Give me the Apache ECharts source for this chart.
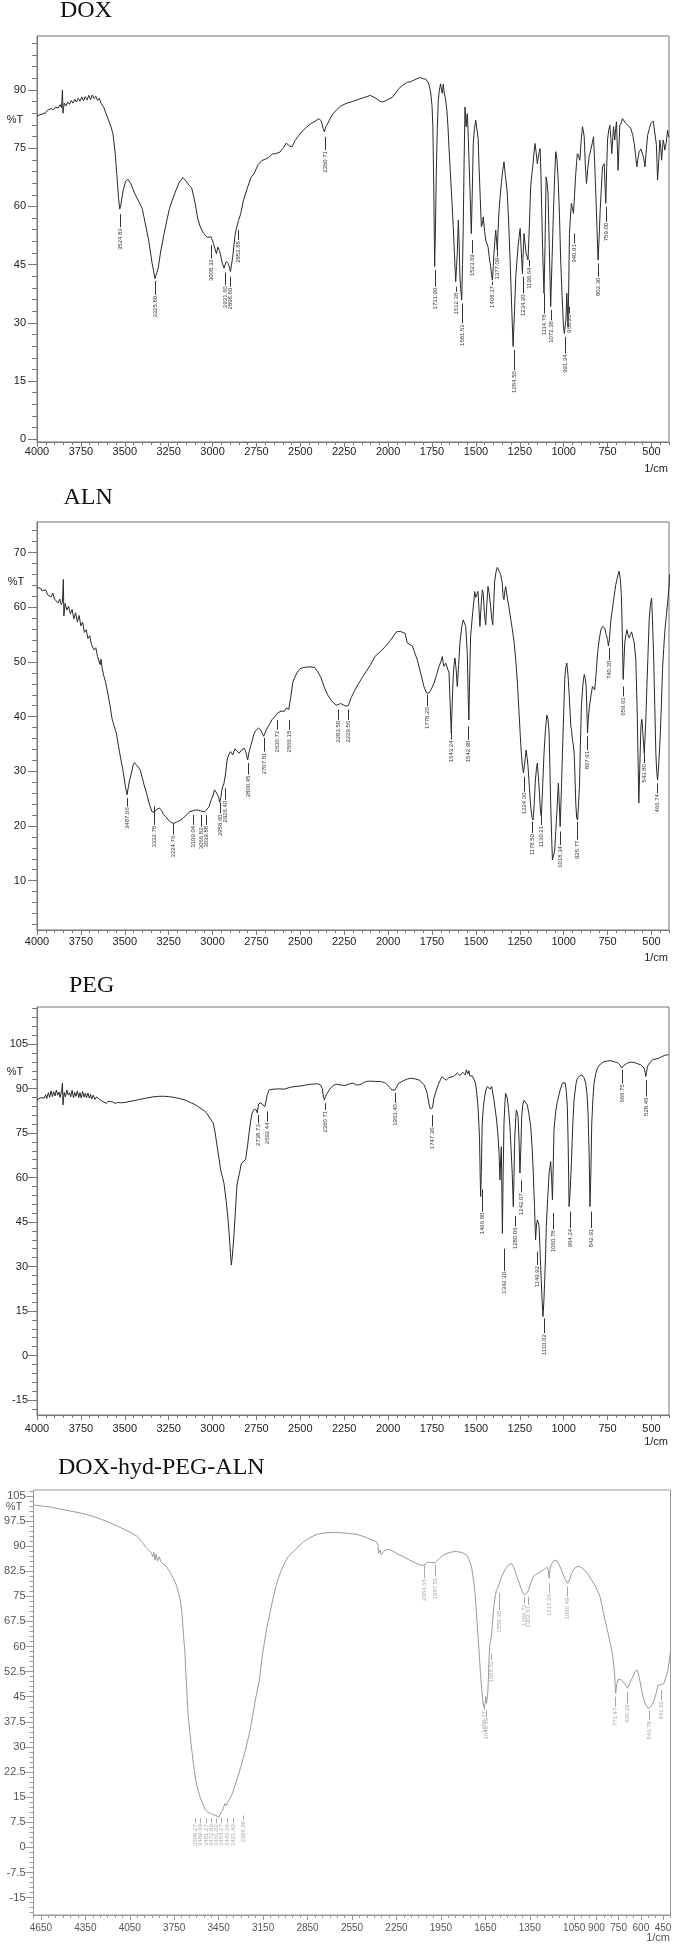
<!DOCTYPE html>
<html><head><meta charset="utf-8">
<script src="https://cdn.jsdelivr.net/npm/echarts@6/dist/echarts.min.js"></script>
<style>html,body{margin:0;padding:0;background:#fff}#c{width:675px;height:1946px}</style>
</head><body><div id="c"></div>
<script>
// ---------------- tick labels ----------------
const X_TICKS_A = [4000,3750,3500,3250,3000,2750,2500,2250,2000,1750,1500,1250,1000,750,500];
const X_TICKS_B = [4650,4350,4050,3750,3450,3150,2850,2550,2250,1950,1650,1350,1050,900,750,600,450];
const DOX_Y_TICKS = [0,15,30,45,60,75,90];
const ALN_Y_TICKS = [10,20,30,40,50,60,70];
const PEG_Y_TICKS = [-15,0,15,30,45,60,75,90,105];
const CONJ_Y_TICKS = [-15,-7.5,0,7.5,15,22.5,30,37.5,45,52.5,60,67.5,75,82.5,90,97.5,105];

// ---------------- spectra [wavenumber, %T] ----------------
const DOX_SPECTRUM = [[4000,83.3],[3985,83.6],[3970,83.8],[3960,84.3],[3950,84.1],[3940,84.8],[3930,84.5],[3920,85.2],[3905,84.9],[3895,85.6],[3880,85.3],[3868,86.2],[3860,85.4],[3855,90.0],[3852,84.0],[3845,86.6],[3835,85.9],[3825,86.9],[3815,86.3],[3805,87.3],[3795,86.6],[3785,87.6],[3775,86.9],[3765,87.8],[3755,87.1],[3745,88.2],[3735,87.2],[3725,88.3],[3715,87.4],[3705,88.6],[3695,87.5],[3685,88.7],[3675,87.8],[3665,88.4],[3655,87.3],[3645,87.9],[3635,86.5],[3628,86.8],[3620,85.6],[3610,84.3],[3595,82.5],[3580,80.7],[3568,78.9],[3555,74.0],[3545,68.0],[3535,62.0],[3529,59.3],[3522,60.5],[3510,64.0],[3495,66.5],[3482,67.0],[3465,65.8],[3445,63.5],[3420,61.2],[3401,59.5],[3385,56.0],[3364,51.3],[3345,45.5],[3328,41.4],[3310,44.0],[3295,48.5],[3278,52.5],[3260,56.5],[3245,59.5],[3229,61.6],[3210,64.0],[3190,66.2],[3168,67.4],[3150,66.5],[3135,65.5],[3119,64.8],[3100,61.0],[3085,57.0],[3070,54.7],[3050,53.0],[3030,52.0],[3009,52.2],[2995,50.5],[2984,50.5],[2978,47.8],[2970,49.5],[2960,48.6],[2945,45.5],[2935,44.1],[2922,45.8],[2910,45.3],[2898,43.2],[2885,47.0],[2872,52.5],[2866,54.0],[2852,56.4],[2840,58.0],[2824,61.6],[2800,65.0],[2780,67.5],[2763,68.5],[2740,70.8],[2720,71.8],[2702,72.1],[2680,72.6],[2660,73.5],[2640,73.6],[2616,74.0],[2595,75.2],[2580,76.3],[2572,76.6],[2560,75.5],[2547,75.3],[2530,77.0],[2510,78.2],[2493,79.2],[2470,80.2],[2440,81.3],[2410,82.1],[2395,82.6],[2380,82.0],[2370,80.0],[2363,79.2],[2355,80.5],[2346,81.2],[2320,83.5],[2295,84.8],[2272,85.8],[2240,86.5],[2205,87.0],[2174,87.5],[2140,88.0],[2101,88.6],[2075,88.0],[2050,87.2],[2032,86.9],[2010,87.3],[1990,87.8],[1978,88.0],[1960,89.0],[1940,90.3],[1917,91.2],[1890,92.0],[1872,92.1],[1850,92.6],[1830,93.0],[1815,93.2],[1800,92.9],[1786,92.8],[1770,91.8],[1758,89.5],[1750,86.0],[1745,80.5],[1740,65.0],[1735,44.5],[1730,55.0],[1726,67.6],[1720,80.0],[1714,87.4],[1708,90.0],[1701,91.6],[1696,90.0],[1691,89.1],[1686,91.5],[1680,89.2],[1672,87.4],[1665,84.5],[1659,80.5],[1652,74.0],[1644,67.6],[1636,61.0],[1629,54.8],[1622,47.5],[1615,40.6],[1610,44.5],[1606,47.9],[1600,56.5],[1595,50.0],[1591,41.9],[1586,38.5],[1581,35.9],[1576,45.0],[1572,54.8],[1567,72.0],[1562,85.6],[1556,80.5],[1552,82.5],[1549,83.9],[1545,80.0],[1539,71.9],[1532,62.0],[1526,53.0],[1520,65.0],[1515,76.2],[1508,80.0],[1501,82.2],[1492,81.8],[1487,77.5],[1482,70.2],[1475,62.0],[1469,54.8],[1463,55.5],[1458,57.3],[1450,53.5],[1444,51.3],[1438,50.8],[1431,49.6],[1424,47.0],[1416,44.5],[1411,42.5],[1406,41.0],[1401,44.5],[1397,47.9],[1392,51.0],[1387,53.9],[1382,51.0],[1378,48.8],[1373,54.5],[1368,59.0],[1360,63.5],[1355,65.9],[1348,69.0],[1340,71.5],[1332,68.0],[1321,63.3],[1313,55.5],[1305,46.2],[1296,34.0],[1288,23.9],[1281,32.0],[1273,41.9],[1266,46.0],[1260,49.6],[1254,52.0],[1248,54.3],[1242,49.0],[1235,42.7],[1230,48.5],[1226,53.0],[1220,50.5],[1214,47.9],[1208,47.5],[1203,46.2],[1195,55.5],[1188,65.0],[1182,68.0],[1176,70.2],[1170,73.5],[1163,76.2],[1157,74.0],[1150,71.0],[1142,73.5],[1134,74.9],[1130,69.0],[1125,59.0],[1118,46.0],[1112,37.6],[1106,50.0],[1100,67.6],[1094,66.0],[1089,63.3],[1082,50.0],[1074,34.2],[1067,45.0],[1058,59.0],[1051,68.0],[1045,74.1],[1038,72.0],[1032,67.6],[1024,58.0],[1017,46.2],[1009,37.0],[1001,29.0],[996,27.3],[992,26.8],[987,31.0],[982,37.6],[978,33.0],[975,29.0],[971,40.0],[967,53.0],[961,57.5],[956,60.8],[950,59.5],[944,58.2],[938,63.0],[931,68.5],[926,71.5],[922,73.6],[915,73.0],[908,71.9],[900,77.0],[893,80.5],[888,79.5],[883,77.9],[877,71.0],[870,65.9],[863,69.5],[855,72.8],[848,74.0],[842,75.3],[836,76.5],[830,77.9],[824,72.0],[817,63.3],[810,54.0],[804,46.2],[798,52.0],[792,59.0],[785,65.0],[779,70.2],[769,71.0],[765,66.0],[760,60.8],[755,70.0],[750,77.1],[744,79.5],[737,80.9],[731,77.5],[726,73.6],[721,77.0],[716,80.5],[709,77.1],[704,80.0],[699,81.8],[694,75.0],[690,69.3],[685,75.5],[680,80.9],[672,81.5],[665,82.6],[655,82.0],[646,81.4],[632,80.8],[617,80.0],[607,78.5],[598,76.2],[590,73.0],[583,70.2],[576,72.5],[570,74.1],[560,74.8],[551,74.5],[544,72.5],[537,70.2],[530,74.0],[522,78.3],[512,80.0],[503,81.4],[490,82.0],[479,82.4],[472,76.0],[465,66.8],[458,72.0],[452,77.1],[447,75.0],[442,71.9],[437,75.0],[433,77.1],[428,76.0],[424,74.5],[420,75.5],[416,76.2],[412,78.0],[408,79.6],[404,78.5],[401,77.9]];

const ALN_SPECTRUM = [[4000,63.6],[3990,63.4],[3980,63.5],[3970,63.0],[3960,62.9],[3950,63.2],[3940,62.3],[3930,62.5],[3920,61.9],[3910,62.6],[3900,61.5],[3890,61.8],[3880,60.8],[3870,61.5],[3862,60.5],[3855,60.9],[3850,65.1],[3847,58.4],[3840,60.7],[3830,59.5],[3820,60.2],[3810,58.8],[3800,59.6],[3790,57.9],[3780,59.0],[3770,57.3],[3760,58.5],[3750,56.6],[3740,57.3],[3730,55.4],[3720,55.9],[3710,54.3],[3700,54.8],[3690,53.2],[3683,53.5],[3675,52.2],[3665,52.6],[3655,51.0],[3646,51.0],[3640,49.5],[3635,50.5],[3629,48.9],[3620,47.5],[3610,46.4],[3598,44.5],[3585,42.2],[3573,39.7],[3560,38.2],[3548,37.0],[3530,33.5],[3511,30.3],[3498,27.5],[3487,25.7],[3475,28.0],[3462,29.7],[3452,31.2],[3445,31.6],[3435,31.2],[3425,30.8],[3413,30.3],[3400,28.8],[3390,27.5],[3376,26.0],[3360,24.0],[3345,22.6],[3332,22.5],[3320,23.0],[3303,23.3],[3290,22.8],[3280,22.1],[3266,21.7],[3250,21.0],[3235,20.6],[3217,20.5],[3200,20.8],[3185,21.0],[3168,21.4],[3150,22.0],[3130,22.6],[3119,22.9],[3100,22.9],[3082,22.9],[3065,22.7],[3060,22.4],[3045,22.6],[3035,22.7],[3020,23.5],[3008,24.8],[2998,25.5],[2989,26.6],[2980,26.2],[2971,25.7],[2965,25.2],[2959,24.3],[2953,25.2],[2947,26.6],[2941,27.3],[2935,27.8],[2926,29.5],[2917,32.1],[2908,33.0],[2898,33.6],[2885,33.0],[2873,34.1],[2862,34.0],[2849,33.3],[2835,33.9],[2819,34.2],[2810,33.5],[2800,32.1],[2790,33.8],[2775,35.5],[2763,37.0],[2750,37.6],[2738,37.9],[2725,37.5],[2709,36.4],[2695,37.5],[2677,38.5],[2660,39.5],[2645,40.0],[2628,40.7],[2610,41.0],[2591,41.0],[2579,41.6],[2566,41.3],[2555,43.5],[2542,46.4],[2520,48.0],[2500,48.8],[2480,49.0],[2450,49.1],[2419,49.0],[2400,48.2],[2382,47.1],[2365,45.5],[2345,44.0],[2320,42.8],[2296,42.1],[2284,42.2],[2270,42.4],[2259,42.2],[2240,41.9],[2227,42.0],[2210,43.5],[2190,44.8],[2173,45.8],[2150,47.0],[2124,48.3],[2100,49.5],[2075,51.0],[2040,52.0],[2014,52.9],[1985,54.0],[1953,55.5],[1930,55.6],[1903,55.2],[1891,53.5],[1862,52.9],[1834,50.4],[1815,48.0],[1796,45.5],[1781,44.3],[1767,44.3],[1754,45.0],[1739,46.1],[1725,47.5],[1710,49.2],[1700,50.0],[1691,51.0],[1686,49.8],[1682,49.2],[1672,49.8],[1663,49.5],[1653,48.0],[1645,41.0],[1640,37.0],[1635,42.5],[1629,47.4],[1624,49.5],[1619,50.7],[1612,48.5],[1606,45.5],[1598,49.5],[1591,53.5],[1580,56.5],[1572,57.7],[1565,57.8],[1558,56.5],[1549,51.6],[1544,44.0],[1540,39.4],[1535,48.0],[1530,54.7],[1520,58.4],[1512,61.0],[1507,62.9],[1501,61.8],[1496,62.0],[1492,62.0],[1488,62.9],[1482,59.5],[1477,56.5],[1470,60.5],[1463,63.2],[1458,62.5],[1454,60.2],[1449,58.0],[1444,56.8],[1438,60.5],[1431,63.8],[1424,62.5],[1416,60.2],[1410,58.0],[1404,56.8],[1398,61.0],[1393,64.8],[1385,66.5],[1378,67.3],[1368,67.0],[1359,66.0],[1350,64.5],[1345,62.0],[1340,61.4],[1335,63.0],[1330,63.8],[1320,61.5],[1311,59.9],[1300,57.5],[1292,55.9],[1282,53.5],[1273,50.4],[1263,46.0],[1254,40.6],[1247,36.5],[1241,33.3],[1235,31.0],[1229,29.7],[1222,31.5],[1214,33.9],[1208,32.5],[1203,30.9],[1195,27.0],[1188,23.6],[1180,21.5],[1174,21.1],[1168,24.0],[1161,28.4],[1155,30.5],[1150,31.5],[1144,29.0],[1138,26.0],[1132,22.5],[1127,21.7],[1120,27.0],[1112,33.3],[1104,37.5],[1096,40.3],[1089,39.5],[1083,37.0],[1078,30.0],[1074,24.2],[1068,17.5],[1064,13.8],[1058,14.5],[1051,15.6],[1045,19.0],[1039,22.3],[1034,25.5],[1030,27.8],[1025,24.0],[1020,19.9],[1013,26.5],[1007,33.3],[1000,40.5],[994,46.8],[988,49.0],[982,49.8],[975,47.5],[969,44.3],[963,40.5],[959,38.2],[955,37.5],[950,35.8],[945,34.8],[940,33.3],[935,28.5],[931,24.2],[926,21.5],[921,21.1],[916,23.5],[910,27.2],[905,34.5],[899,41.9],[890,46.0],[883,47.7],[877,47.0],[872,45.5],[867,40.5],[864,37.0],[860,39.5],[853,41.9],[845,43.8],[836,45.5],[830,45.2],[823,44.9],[815,48.0],[807,51.6],[798,54.0],[788,55.9],[778,56.5],[766,56.2],[758,55.0],[750,54.1],[745,52.9],[740,54.0],[731,57.7],[717,61.0],[703,64.2],[690,66.0],[684,66.6],[677,65.0],[671,62.0],[666,55.0],[661,46.8],[656,50.5],[652,53.5],[645,55.0],[640,55.9],[634,55.0],[627,54.4],[620,55.0],[613,55.5],[608,55.3],[598,53.5],[589,50.4],[582,42.0],[575,30.3],[572,24.2],[567,30.0],[560,38.2],[555,39.5],[553,39.1],[547,36.0],[541,33.3],[533,38.5],[526,45.5],[520,51.0],[513,57.7],[506,60.5],[499,61.7],[494,57.5],[488,51.6],[481,42.0],[475,33.3],[470,30.0],[465,28.4],[458,31.5],[450,36.4],[443,42.5],[437,48.6],[430,52.5],[423,55.9],[415,58.5],[408,60.8],[402,63.0],[399,64.2],[397,66.0]];

const PEG_SPECTRUM = [[4000,86.2],[3990,86.6],[3980,86.9],[3970,87.3],[3960,86.8],[3950,87.9],[3945,86.6],[3935,88.6],[3928,87.0],[3920,89.2],[3912,87.3],[3905,88.9],[3897,87.5],[3890,89.5],[3882,87.8],[3875,88.8],[3868,87.0],[3860,89.3],[3855,91.8],[3852,84.5],[3845,88.7],[3838,87.2],[3830,89.5],[3822,87.8],[3815,88.6],[3808,87.2],[3800,89.4],[3792,86.9],[3785,88.7],[3778,87.4],[3770,89.2],[3762,87.0],[3755,88.6],[3748,86.8],[3740,89.0],[3732,87.1],[3725,88.4],[3718,86.9],[3710,88.5],[3702,86.8],[3695,88.0],[3688,86.5],[3680,87.8],[3670,86.3],[3660,87.2],[3646,86.4],[3635,86.9],[3625,85.6],[3615,86.1],[3605,85.0],[3595,85.7],[3585,85.1],[3570,85.5],[3555,85.0],[3540,85.3],[3520,85.2],[3499,85.3],[3470,85.7],[3440,86.0],[3410,86.4],[3376,86.8],[3340,87.2],[3300,87.4],[3278,87.4],[3250,87.3],[3220,87.0],[3200,86.8],[3180,86.5],[3150,86.0],[3120,85.1],[3100,84.6],[3082,83.9],[3060,83.0],[3045,82.4],[3033,81.7],[3015,80.0],[2996,78.3],[2985,75.0],[2971,69.3],[2962,66.0],[2954,62.6],[2945,60.5],[2935,58.1],[2922,51.9],[2912,46.0],[2905,40.7],[2898,34.5],[2893,30.5],[2888,33.0],[2878,40.7],[2870,48.5],[2861,57.5],[2854,58.1],[2845,62.0],[2836,64.8],[2825,65.3],[2812,66.0],[2800,71.0],[2792,75.0],[2783,79.0],[2775,81.7],[2763,83.0],[2751,82.8],[2745,81.8],[2738,84.8],[2725,85.2],[2714,85.0],[2702,83.9],[2695,84.5],[2688,88.0],[2677,89.6],[2650,89.8],[2620,89.9],[2591,89.8],[2560,90.4],[2530,90.7],[2493,90.9],[2460,91.3],[2430,91.5],[2399,91.6],[2385,91.2],[2375,90.0],[2368,87.0],[2363,86.2],[2357,87.4],[2346,88.5],[2330,90.0],[2313,91.0],[2296,91.5],[2270,91.2],[2247,91.0],[2220,91.6],[2198,91.8],[2180,91.2],[2161,91.3],[2140,92.0],[2124,92.4],[2100,92.5],[2070,92.4],[2043,92.4],[2020,92.0],[2005,91.3],[1990,90.3],[1978,89.5],[1971,89.3],[1960,89.6],[1950,90.8],[1939,91.8],[1915,92.6],[1891,93.2],[1870,93.5],[1844,93.2],[1820,92.8],[1796,91.3],[1780,89.0],[1768,85.1],[1760,83.2],[1754,82.8],[1747,83.5],[1739,86.8],[1725,89.5],[1711,91.8],[1700,93.2],[1692,94.0],[1680,93.2],[1667,92.9],[1655,93.6],[1644,94.0],[1625,94.2],[1606,95.2],[1590,94.4],[1575,95.5],[1568,95.2],[1560,94.6],[1555,96.3],[1549,96.3],[1545,95.0],[1540,96.0],[1535,94.3],[1530,94.0],[1520,94.2],[1510,93.0],[1502,91.8],[1495,88.5],[1488,83.9],[1483,78.0],[1479,72.7],[1476,62.0],[1473,53.6],[1469,62.0],[1464,78.3],[1457,84.0],[1450,87.3],[1443,89.5],[1435,90.7],[1428,90.2],[1420,89.8],[1414,90.4],[1410,90.7],[1404,88.5],[1397,86.2],[1390,83.0],[1382,79.4],[1374,74.0],[1368,68.2],[1363,59.2],[1359,66.0],[1355,70.4],[1352,55.0],[1349,41.2],[1345,60.0],[1340,78.3],[1335,84.5],[1331,88.4],[1326,88.2],[1321,86.8],[1314,83.0],[1306,77.2],[1300,70.0],[1293,61.5],[1287,50.2],[1283,60.0],[1279,72.7],[1274,79.0],[1270,82.8],[1265,82.0],[1260,80.6],[1255,74.0],[1249,61.5],[1244,70.0],[1239,80.6],[1233,84.5],[1226,86.0],[1217,85.6],[1207,84.5],[1198,81.5],[1188,77.2],[1180,70.5],[1173,61.5],[1166,50.0],[1160,39.0],[1155,44.0],[1150,45.7],[1145,45.0],[1140,43.5],[1135,36.0],[1131,30.0],[1124,20.0],[1118,13.1],[1113,18.0],[1108,25.5],[1103,34.0],[1099,43.5],[1090,54.0],[1083,61.5],[1078,63.5],[1074,65.4],[1069,60.0],[1064,52.5],[1059,65.0],[1055,76.1],[1045,82.5],[1036,85.6],[1020,89.5],[1007,91.8],[992,92.0],[985,89.0],[979,83.9],[974,70.0],[969,50.2],[963,55.5],[956,64.8],[948,78.0],[941,86.2],[930,91.5],[922,93.5],[910,94.2],[897,94.6],[885,93.8],[874,91.8],[867,88.0],[861,81.7],[855,68.0],[850,50.2],[845,62.0],[840,78.3],[833,87.0],[827,91.8],[818,94.8],[808,96.9],[790,98.3],[770,99.1],[750,99.3],[732,99.4],[710,99.0],[694,98.8],[680,98.0],[670,96.9],[665,96.8],[658,97.8],[650,98.4],[637,98.6],[620,98.9],[599,98.8],[580,98.4],[561,98.0],[550,97.6],[542,96.9],[536,95.5],[532,94.1],[528,95.5],[523,97.4],[515,98.2],[505,99.0],[494,99.7],[480,99.9],[470,100.3],[460,100.2],[446,100.6],[435,100.5],[425,101.2],[415,100.8],[408,101.4],[401,101.2]];

const CONJ_SPECTRUM = [[4700,102.3],[4650,102.0],[4578,101.6],[4491,100.8],[4420,100.2],[4345,99.5],[4280,98.6],[4200,97.3],[4130,95.9],[4055,94.3],[4000,92.9],[3960,90.8],[3939,89.5],[3920,88.6],[3905,88.0],[3895,86.8],[3888,88.1],[3880,85.8],[3872,87.6],[3863,85.5],[3851,86.8],[3840,85.3],[3825,84.6],[3810,84.3],[3795,83.3],[3779,82.3],[3760,80.6],[3736,78.4],[3712,74.4],[3700,71.0],[3692,66.4],[3685,62.0],[3678,58.4],[3669,50.0],[3657,40.0],[3645,34.5],[3634,30.0],[3620,24.8],[3605,20.1],[3590,17.2],[3576,15.1],[3556,12.8],[3538,11.1],[3520,10.4],[3504,10.2],[3490,9.7],[3475,9.7],[3462,9.3],[3451,9.0],[3440,9.5],[3431,10.6],[3420,11.5],[3408,13.1],[3398,12.5],[3388,13.6],[3375,14.5],[3358,16.1],[3330,19.8],[3300,24.1],[3270,29.0],[3242,34.1],[3220,39.5],[3198,45.0],[3175,50.0],[3155,57.5],[3126,65.4],[3100,70.8],[3083,74.4],[3060,78.5],[3039,81.4],[3010,84.5],[2981,86.8],[2950,88.2],[2923,89.3],[2880,91.2],[2836,92.5],[2780,93.6],[2720,94.0],[2662,94.1],[2600,93.9],[2516,93.5],[2450,92.5],[2386,91.3],[2375,90.5],[2371,87.8],[2365,88.3],[2359,88.8],[2353,87.4],[2349,87.5],[2340,88.2],[2320,88.9],[2299,89.0],[2270,88.4],[2240,87.6],[2226,87.3],[2190,86.5],[2160,85.8],[2120,84.9],[2092,84.3],[2065,84.3],[2040,85.2],[2029,85.5],[2015,85.1],[2002,84.8],[1990,85.0],[1980,85.3],[1960,86.3],[1935,87.3],[1900,88.0],[1867,88.3],[1845,88.4],[1822,88.2],[1800,87.9],[1777,87.3],[1760,86.0],[1743,83.8],[1730,80.0],[1721,76.9],[1710,70.0],[1699,62.9],[1690,57.0],[1683,52.0],[1674,47.0],[1665,43.0],[1658,41.8],[1654,41.5],[1650,43.5],[1647,45.0],[1642,43.0],[1638,42.5],[1633,46.5],[1629,51.0],[1625,56.0],[1620,60.4],[1615,61.5],[1609,62.9],[1600,68.0],[1593,71.9],[1583,75.0],[1575,76.9],[1566,77.6],[1559,78.4],[1545,80.3],[1530,81.9],[1512,83.3],[1496,84.3],[1485,84.8],[1474,84.8],[1462,84.0],[1451,82.8],[1435,80.7],[1417,78.4],[1400,76.3],[1388,75.4],[1375,75.5],[1361,76.4],[1345,78.8],[1327,80.9],[1310,81.5],[1294,81.9],[1275,82.3],[1260,82.8],[1245,83.3],[1231,83.6],[1224,82.5],[1219,80.4],[1213,83.0],[1204,84.6],[1188,85.6],[1170,85.8],[1155,84.8],[1136,82.8],[1115,80.5],[1096,78.9],[1082,79.8],[1069,81.8],[1050,83.3],[1024,84.0],[1000,83.6],[979,82.8],[955,81.5],[934,79.9],[910,78.3],[889,76.4],[875,74.8],[866,72.9],[845,68.5],[821,63.9],[805,60.5],[792,57.9],[783,54.5],[776,51.0],[772,47.0],[770,46.0],[766,47.5],[761,49.0],[752,50.2],[743,50.5],[730,50.0],[720,49.5],[700,48.3],[690,47.5],[687,47.3],[681,48.5],[675,48.5],[665,50.0],[653,51.0],[640,52.5],[626,53.0],[617,52.0],[608,50.0],[597,47.5],[585,45.0],[570,42.8],[552,41.5],[535,42.0],[518,43.0],[500,45.5],[484,48.5],[475,48.8],[466,48.5],[462,48.0],[455,48.2],[444,49.0],[430,51.0],[417,53.0],[405,57.0],[400,58.5]];

// ---------------- peak annotations [text, wavenumber, leader top %T, leader bottom %T] ----------------
const DOX_PEAKS = [['3524.83',3524.83,58.0,54.6],['3325.80',3325.8,40.8,37.2],['3008.32',3008.32,50.0,46.6],['2931.60',2931.6,43.0,39.7],['2898.80',2898.8,41.9,39.3],['2852.88',2852.88,53.9,51.3],['2360.71',2360.71,77.9,74.5],['1731.90',1731.9,43.6,39.3],['1612.38',1612.38,39.3,38.0],['1581.52',1581.52,35.0,29.9],['1523.69',1523.69,51.3,47.9],['1408.37',1408.37,40.6,39.7],['1377.09',1377.09,49.6,47.0],['1284.50',1284.5,23.0,17.8],['1234.20',1234.2,41.9,37.6],['1199.64',1199.64,46.2,44.5],['1114.78',1114.78,37.6,32.4],['1072.38',1072.38,33.3,30.7],['991.34',991.34,26.4,22.1],['968.20',968.2,34.2,32.4],['940.91',940.91,53.0,50.5],['802.30',802.3,45.3,41.9],['759.00',759.0,59.9,56.0]];
const ALN_PEAKS = [['3487.06',3487.06,25.1,23.6],['3332.78',3332.78,23.6,20.2],['3224.76',3224.76,20.5,18.4],['3109.04',3109.04,22.0,20.2],['3066.82',3066.82,22.0,19.9],['3039.88',3039.88,22.0,20.2],['2958.60',2958.6,24.2,22.3],['2926.40',2926.4,26.9,24.8],['2800.45',2800.45,31.5,29.4],['2707.81',2707.81,36.1,33.6],['2630.72',2630.72,39.4,37.6],['2566.15',2566.15,39.4,37.6],['2283.50',2283.5,41.3,39.4],['2229.56',2229.56,41.3,39.4],['1778.20',1778.2,44.0,41.9],['1643.24',1643.24,37.0,35.8],['1542.90',1542.9,38.2,35.8],['1224.30',1224.3,29.0,26.3],['1178.50',1178.5,20.8,18.7],['1130.21',1130.21,21.7,20.2],['1018.34',1018.34,19.0,16.5],['925.77',925.77,20.8,17.5],['867.91',867.91,36.4,33.9],['740.30',740.3,52.6,50.4],['659.61',659.61,45.5,43.7],['543.80',543.8,33.3,31.5],['466.74',466.74,27.8,26.0]];
const PEG_PEAKS = [['2738.73',2738.73,81.1,78.3],['2692.44',2692.44,82.3,78.9],['2360.71',2360.71,85.1,82.8],['1963.40',1963.4,88.5,85.1],['1747.30',1747.3,81.1,77.2],['1466.80',1466.8,56.0,48.5],['1342.30',1342.3,36.0,28.5],['1280.06',1280.06,47.0,43.5],['1242.07',1242.07,59.0,55.0],['1149.92',1149.92,35.0,30.5],['1110.02',1110.02,12.5,7.5],['1060.78',1060.78,48.0,42.5],['964.24',964.24,48.5,43.0],['842.91',842.91,48.5,43.0],['666.75',666.75,96.3,91.8],['528.46',528.46,92.9,87.3]];
const CONJ_PEAKS = [['3508.27',3613,8.7,7.2],['3489.99',3576,8.7,7.2],['3481.27',3538,8.7,7.2],['3472.59',3504,8.7,7.2],['3461.02',3466,8.7,7.2],['3454.27',3431,8.7,7.2],['3443.66',3393,8.7,7.2],['3421.49',3355,8.7,7.2],['3385.80',3283,9.5,8.2],['2064.66',2064.66,84.3,80.4],['1987.51',1987.51,84.3,80.9],['1655.77',1655.77,42.0,41.0],['1646.13',1646.13,41.0,39.0],['1608.52',1608.52,58.0,56.0],['1558.38',1558.38,75.9,70.9],['1386.72',1386.72,74.9,72.9],['1362.61',1362.61,74.9,72.4],['1217.36',1217.36,78.9,75.9],['1095.49',1095.49,77.9,74.9],['771.47',771.47,45.0,42.0],['695.29',695.29,46.5,43.0],['546.78',546.78,41.0,38.0],['461.92',461.92,47.0,44.0]];

// ---------------- layout / style ----------------
function steps(a, b, s) { const r = []; for (let v = a; v <= b + 1e-9; v += s) r.push(+v.toFixed(3)); return r; }
const FONT = "'Liberation Sans',Arial,sans-serif";
const plain = v => String(v);

const panels = [
  { title:'DOX', tx:60, ty:10.8, grid:{left:37,right:6,top:36,height:406}, xMin:400, xMax:4000, yMin:-0.7, yMax:103.9,
    xTicks:X_TICKS_A, xMinor:steps(400,4000,50), yTicks:DOX_Y_TICKS, yMinor:steps(0,102,3),
    data:DOX_SPECTRUM, peaks:DOX_PEAKS, line:'#2a2a2a', axis:'#777', text:'#222', peak:'#333',
    xMargin:4, yMargin:11, yMaj:9, yMin2:5, pT:[15,119.7], unit:[668,469], xFs:11 },
  { title:'ALN', tx:63.5, ty:497.8, grid:{left:37,right:6,top:522,height:408}, xMin:400, xMax:4000, yMin:0.97, yMax:75.6,
    xTicks:X_TICKS_A, xMinor:steps(400,4000,50), yTicks:ALN_Y_TICKS, yMinor:steps(2,74,2),
    data:ALN_SPECTRUM, peaks:ALN_PEAKS, line:'#2a2a2a', axis:'#777', text:'#222', peak:'#333',
    xMargin:6, yMargin:11, yMaj:9, yMin2:5, pT:[16,581.7], unit:[668,958], xFs:11 },
  { title:'PEG', tx:69, ty:985.5, grid:{left:37,right:6,top:1007,height:408}, xMin:400, xMax:4000, yMin:-20.07, yMax:117.5,
    xTicks:X_TICKS_A, xMinor:steps(400,4000,50), yTicks:PEG_Y_TICKS, yMinor:steps(-18,117,3),
    data:PEG_SPECTRUM, peaks:PEG_PEAKS, line:'#2a2a2a', axis:'#777', text:'#222', peak:'#333',
    xMargin:8, yMargin:9, yMaj:9, yMin2:5, pT:[15,1071.7], unit:[668,1441.7], xFs:11 },
  { title:'DOX-hyd-PEG-ALN', tx:58, ty:1467.5, grid:{left:33.5,right:4.5,top:1490,height:425}, xMin:400, xMax:4700, yMin:-20.2, yMax:106.75,
    xTicks:X_TICKS_B, xMinor:steps(400,4700,50), yTicks:CONJ_Y_TICKS, yMinor:steps(-19.5,106.5,1.5),
    data:CONJ_SPECTRUM, peaks:CONJ_PEAKS, line:'#9a9a9a', axis:'#999', text:'#555', peak:'#a8a8a8',
    xMargin:8, yMargin:8, yMaj:8, yMin2:4, pT:[14,1506.7], unit:[670,1937.7], xFs:10 }
];

const option = { animation:false, backgroundColor:'#fff', grid:[], xAxis:[], yAxis:[], series:[], graphic:[] };

panels.forEach((p, i) => {
  option.grid.push(Object.assign({ show:true, borderColor:p.axis, borderWidth:1, backgroundColor:'transparent' }, p.grid));
  const lbl = { color:p.text, fontFamily:FONT, formatter:plain, hideOverlap:false, showMinLabel:true, showMaxLabel:true };
  option.xAxis.push({ type:'value', gridIndex:i, min:p.xMin, max:p.xMax, inverse:true, position:'bottom',
    axisLine:{ show:true, onZero:false, lineStyle:{ color:p.axis, width:1 } },
    axisTick:{ show:true, customValues:p.xTicks, length:5, lineStyle:{ color:p.axis } },
    axisLabel:Object.assign({ show:true, customValues:p.xTicks, margin:p.xMargin, fontSize:p.xFs }, lbl),
    splitLine:{ show:false } });
  option.xAxis.push({ type:'value', gridIndex:i, min:p.xMin, max:p.xMax, inverse:true, position:'bottom',
    axisLine:{ show:false, onZero:false },
    axisTick:{ show:true, customValues:p.xMinor, length:3, lineStyle:{ color:p.axis } },
    axisLabel:{ show:false }, splitLine:{ show:false } });
  option.yAxis.push({ type:'value', gridIndex:i, min:p.yMin, max:p.yMax, position:'left',
    axisLine:{ show:true, onZero:false, lineStyle:{ color:p.axis, width:1 } },
    axisTick:{ show:true, customValues:p.yTicks, length:p.yMaj, lineStyle:{ color:p.axis } },
    axisLabel:Object.assign({ show:true, customValues:p.yTicks, margin:p.yMargin, fontSize:11 }, lbl),
    splitLine:{ show:false } });
  option.yAxis.push({ type:'value', gridIndex:i, min:p.yMin, max:p.yMax, position:'left',
    axisLine:{ show:false, onZero:false },
    axisTick:{ show:true, customValues:p.yMinor, length:p.yMin2, lineStyle:{ color:p.axis } },
    axisLabel:{ show:false }, splitLine:{ show:false } });

  option.series.push({ type:'line', xAxisIndex:2*i, yAxisIndex:2*i, data:p.data, showSymbol:false, symbol:'none',
    lineStyle:{ color:p.line, width:1 }, silent:true, clip:true, z:3 });

  const peaks = p.peaks;
  option.series.push({ type:'custom', xAxisIndex:2*i, yAxisIndex:2*i, silent:true, z:4,
    data:peaks.map(q => [q[1], q[2], q[3]]), encode:{ x:0, y:[1,2] },
    renderItem:(params, api) => {
      const lab = peaks[params.dataIndex][0];
      const a = api.coord([api.value(0), api.value(1)]);
      const b = api.coord([api.value(0), api.value(2)]);
      const x = Math.round(a[0]) + 0.5;
      return { type:'group', children:[
        { type:'line', shape:{ x1:x, y1:a[1], x2:x, y2:b[1] }, style:{ stroke:p.peak, lineWidth:1 } },
        { type:'text', x:x, y:b[1] + 1, rotation:Math.PI/2,
          style:{ text:lab, fill:p.peak, fontSize:6, fontFamily:FONT, align:'right', verticalAlign:'middle' } }
      ]};
    } });

  option.graphic.push({ type:'text', x:p.tx, y:p.ty, silent:true,
    style:{ text:p.title, fill:'#111', fontSize:24, fontFamily:"'Liberation Serif','Times New Roman',serif", verticalAlign:'middle', align:'left' } });
  option.graphic.push({ type:'text', x:p.pT[0], y:p.pT[1], silent:true,
    style:{ text:'%T', fill:p.text, fontSize:11, fontFamily:FONT, verticalAlign:'middle', align:'center' } });
  option.graphic.push({ type:'text', x:p.unit[0], y:p.unit[1], silent:true,
    style:{ text:'1/cm', fill:p.text, fontSize:11, fontFamily:FONT, verticalAlign:'middle', align:'right' } });
});

const chart = echarts.init(document.getElementById('c'), null, { renderer:'canvas', width:675, height:1946 });
chart.setOption(option);
</script></body></html>
